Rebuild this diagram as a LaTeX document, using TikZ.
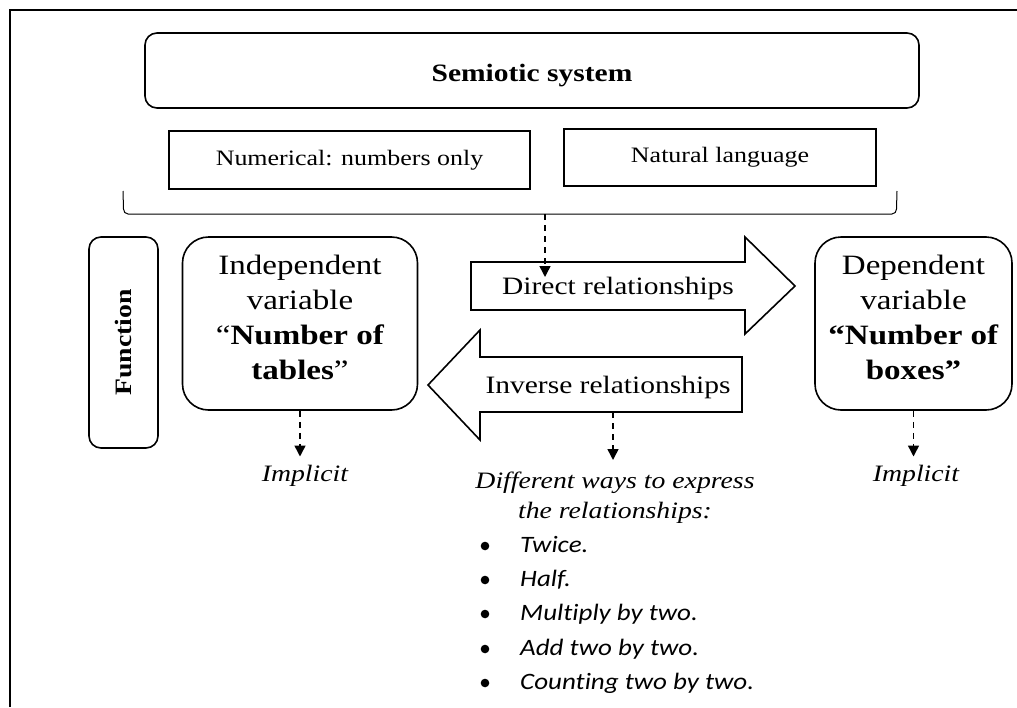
\documentclass[tikz,border=0pt]{standalone}
\usepackage{fontspec}
\setmainfont[FakeStretch=1.18]{Liberation Serif}
\newfontfamily\calib[FakeStretch=1.15,Ligatures=NoCommon]{Carlito}
\usetikzlibrary{arrows.meta}
\begin{document}
\begin{tikzpicture}[x=1pt,y=-1pt,
  box/.style={draw,line width=1.6pt,inner sep=0pt},
  rbox/.style={box,rounded corners=12pt},
  bigr/.style={box,rounded corners=26pt},
  lbl/.style={inner sep=0pt,align=center},
  dasharrow/.style={line width=1.5pt,dash pattern=on 6pt off 5pt,-{Triangle[length=11pt,width=11pt]}},
  fat/.style={draw,line width=1.6pt,line join=miter},
  small/.style={font=\fontsize{22}{26}\selectfont},
  mid/.style={font=\fontsize{25}{30}\selectfont},
  large/.style={font=\fontsize{28}{35}\selectfont},
  itl/.style={font=\fontsize{23.5}{30}\selectfont\itshape},
  lst/.style={inner sep=0pt,anchor=base west,font=\fontsize{23.5}{28}\selectfont\calib\itshape}]
\useasboundingbox (0,0) rectangle (1017,707);
\draw[line width=2pt] (10,707) -- (10,10) -- (1017,10);

% semiotic system
\node[rbox,minimum width=774pt,minimum height=75pt] (sem) at (532,70.5) {};
\node[lbl,font=\fontsize{25}{30}\selectfont\bfseries] (semt) at (532,76) {Semiotic system};
\node[box,small,minimum width=361pt,minimum height=58pt] (num) at (349.5,160) {Numerical: numbers only};
\node[box,small,minimum width=312pt,minimum height=57pt] (nat) at (720,157.5) {Natural language};

% brace
\draw[line width=1pt] (123,191) -- (123.5,209) to[out=-90,in=180] (128,214) -- (892,214) to[out=0,in=-90] (896.5,209) -- (897,191);
\coordinate (bm) at (545,214);

% function
\node[rbox,rotate=90,minimum width=211pt,minimum height=69pt,font=\fontsize{23.5}{28}\selectfont\bfseries] (fun) at (123.5,342.5) {Function};

% independent / dependent
\node[bigr,minimum width=235pt,minimum height=173pt] (indep) at (300,323.5) {};
\node[lbl,large] (indept) at (300,317) {Independent\\variable\\“\textbf{Number of}\\\textbf{tables}”};
\node[bigr,minimum width=197pt,minimum height=173pt] (dep) at (913.5,323.5) {};
\node[lbl,large] (dept) at (913.5,317) {Dependent\\variable\\\textbf{“Number of}\\\textbf{boxes”}};

% fat arrows
\draw[fat] (471,262) -- (745,262) -- (745,237) -- (795,286) -- (745,334) -- (745,310) -- (471,310) -- cycle;
\node[lbl,mid] (dir) at (618,288) {Direct relationships};
\draw[fat] (742,357) -- (480,357) -- (480,330) -- (428,385) -- (480,440) -- (480,412) -- (742,412) -- cycle;
\node[lbl,mid] (inv) at (608,387) {Inverse relationships};
\coordinate (dtop) at (545,277);
\coordinate (invb) at (613,412);

% dashed arrows and texts
\draw[dasharrow] (bm) -- (dtop);
\node[lbl,itl,anchor=base] (imp1) at (305,481) {Implicit};
\node[lbl,itl,anchor=base] (imp2) at (916,481) {Implicit};
\draw[dasharrow,shorten >=8pt] (indep.south) -- (indep.south |- imp1.north);
\draw[dasharrow,shorten >=8pt] (dep.south) -- (dep.south |- imp2.north);
\node[lbl,itl,anchor=north] (ways) at (615,472) {Different ways to express\\the relationships:};
\draw[dasharrow,shorten >=12pt] (invb) -- (invb |- ways.north);

% list
\foreach \t/\yb in {Twice./552,Half./586,Multiply by two./620,Add two by two./655,Counting two by two./689}{
  \node[lst] at (520,\yb) {\t};
  \fill (485,\yb-6) circle (4.3pt);
}
\end{tikzpicture}
\end{document}
